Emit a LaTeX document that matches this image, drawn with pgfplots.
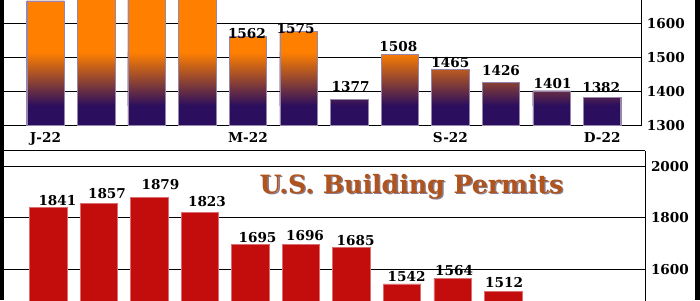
\documentclass[border=0pt]{standalone}
\usepackage{pgfplots}
\pgfplotsset{compat=1.18}
\usepackage{pgfplotstable}
\usepackage{fontspec}
\setmainfont{DejaVu Serif}
\definecolor{orng}{HTML}{FF8000}
\definecolor{purp}{HTML}{2C0E5E}
\definecolor{redbar}{HTML}{C30D0D}
\definecolor{titlec}{HTML}{B0541E}
\definecolor{shadowc}{HTML}{3A2848}
\newdimen\bbxa \newdimen\bbxb \newdimen\bbya \newdimen\bbyb

\pgfplotstableread{
x y dx dy
0 1666 0 1
1 1777 0 0.75
2 1716 0 0.75
3 1803 0 0.75
4 1562 -0.5 -1.15
5 1575 -1.5 -0.85
6 1377 0.75 3.5
7 1508 -0.75 1.2
8 1465 0 0.85
9 1426 0 3
10 1401 0.5 1.2
11 1382 -0.5 2.2
}\starts
\pgfplotstableread{
x y dx dy
0 1841 4.5 0.5
1 1857 4 2
2 1879 5.5 3.85
3 1823 3.5 2.35
4 1695 3.5 0.65
5 1696 2 2
6 1685 2 0.85
7 1542 2.25 0.85
8 1564 0.75 1
9 1512 0.5 2
10 1351 0 1
11 1337 0 1
}\permits

\pgfplotsset{
  /pgf/number format/1000 sep={},
  panel/.style={
    scale only axis,
    axis y line*=right,
    ymajorgrids,
    grid style={black, line width=0.5pt},
    axis line style={black, line width=0.5pt},
    major tick length=0pt,
    tick label style={font=\fontsize{6.8}{7}\selectfont\bfseries},
    /pgf/number format/assume math mode=true,
    yticklabel style={anchor=west, inner sep=0pt},
  },
  vals/.style={
    nodes near coords,
    point meta=explicit,
    visualization depends on={\thisrow{dx} \as \mydx},
    visualization depends on={\thisrow{dy} \as \mydy},
    every node near coord/.append style={anchor=south, inner sep=0pt, path picture={},
      xshift=\mydx pt, yshift=\mydy pt, font=\fontsize{6.8}{7}\selectfont\bfseries, text=black},
  },
}

\begin{document}
\begin{tikzpicture}
\path[use as bounding box] (0,0) rectangle (350pt,150pt);
\clip (0,0) rectangle (350pt,150pt);

% top panel: housing starts (bars measured from 1300, the axis floor)
\begin{axis}[panel,
  at={(2pt,87.35pt)}, anchor=south west,
  width=318.85pt, height=64.6pt,
  xmin=-0.82, xmax=11.78, ymin=0, ymax=380,
  axis x line*=bottom,
  xtick={0,4,8,11}, xticklabels={J-22,M-22,S-22,D-22},
  xticklabel style={anchor=north, inner sep=0pt, yshift=-3.2pt},
  ytick={0,100,200,300}, yticklabels={1300,1400,1500,1600},
  yticklabel style={xshift=2.4pt},
]
\addplot[ybar, bar width=18.75pt, draw=purp!50!white, line width=0.3pt, fill=purp, vals,
  path picture={%
    \pgfextractx{\bbxa}{\pgfpointanchor{path picture bounding box}{south west}}%
    \pgfextractx{\bbxb}{\pgfpointanchor{path picture bounding box}{north east}}%
    \pgfextracty{\bbya}{\pgfpointanchor{path picture bounding box}{south west}}%
    \pgfextracty{\bbyb}{\pgfpointanchor{path picture bounding box}{north east}}%
    \ifdim\bbxa<\bbxb\relax\ifdim\bbya<\bbyb\relax
      \fill[orng, draw=none, path picture={}] ([yshift=36.55pt]path picture bounding box.south west) rectangle ([xshift=1pt, yshift=1pt]path picture bounding box.north east);
      \shade[bottom color=purp, top color=orng, draw=none, path picture={}] ([yshift=9.86pt]path picture bounding box.south west) rectangle ([yshift=36.6pt]path picture bounding box.south east);
      \draw[purp!50!white, line width=0.3pt, fill=none, path picture={}] ([xshift=0.15pt]path picture bounding box.south west) rectangle ([xshift=-0.15pt, yshift=-0.15pt]path picture bounding box.north east);
    \fi\fi
  }] table[x=x, y expr=\thisrow{y}-1300, meta=y] {\starts};
\end{axis}

% bottom panel: building permits
\begin{axis}[panel,
  at={(2pt,74.65pt)}, anchor=north west,
  width=320.5pt, height=84.8pt,
  xmin=-0.88, xmax=11.81, ymin=1400, ymax=2062.5,
  axis x line*=top,
  xtick=\empty,
  ytick={1600,1800,2000},
  yticklabel style={xshift=2.8pt},
]
\addplot[ybar, bar width=18.75pt, draw=redbar!60!white, line width=0.3pt, fill=redbar, vals]
  table[x=x, y=y, meta=y] {\permits};
\end{axis}

\node[anchor=base, font=\fontsize{12.6}{14}\selectfont\bfseries, text=shadowc, opacity=0.6] at (206.4pt,52.6pt) {U.S. Building Permits};
\node[anchor=base, font=\fontsize{12.6}{14}\selectfont\bfseries, text=titlec] at (205.75pt,53.35pt) {U.S. Building Permits};

\fill[black] (0,0) rectangle (2pt,150pt);
\fill[black] (347.5pt,0) rectangle (350pt,150pt);
\end{tikzpicture}
\end{document}
